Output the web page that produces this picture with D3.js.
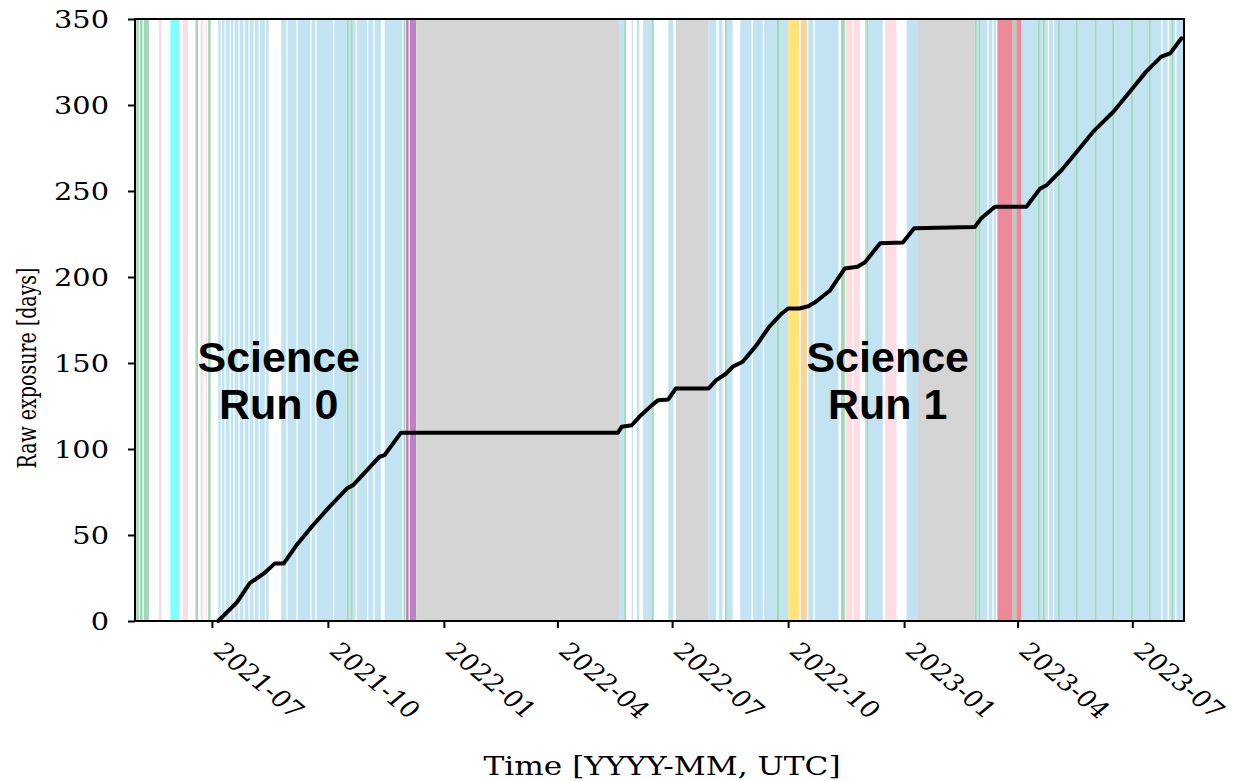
<!DOCTYPE html>
<html>
<head>
<meta charset="utf-8">
<script src="https://cdn.jsdelivr.net/npm/d3@7"></script>
<style>
  body { margin: 0; background: #fff; }
  svg { display: block; }
</style>
</head>
<body>
<svg id="chart" width="1240" height="781"></svg>
<script>
// ---- data -------------------------------------------------------------
const xTickLabels = ["2021-07", "2021-10", "2022-01", "2022-04", "2022-07",
                     "2022-10", "2023-01", "2023-04", "2023-07"];
const yTickValues = [0, 50, 100, 150, 200, 250, 300, 350];

// Detector operating periods, [start, end)
const science = [
  ["2021-07-06","2021-07-08"],["2021-07-09","2021-07-11"],["2021-07-12","2021-07-15"],
  ["2021-07-16","2021-07-18"],["2021-07-19","2021-07-22"],["2021-07-23","2021-07-26"],
  ["2021-07-27","2021-07-30"],["2021-07-31","2021-08-03"],["2021-08-04","2021-08-07"],
  ["2021-08-08","2021-08-12"],["2021-08-13","2021-08-15"],["2021-08-25","2021-08-29"],
  ["2021-08-30","2021-09-06"],["2021-09-07","2021-09-17"],["2021-09-18","2021-09-21"],
  ["2021-09-22","2021-10-05"],["2021-10-06","2021-10-16"],["2021-10-17","2021-10-19"],
  ["2021-10-20","2021-10-23"],["2021-10-24","2021-11-01"],["2021-11-02","2021-11-06"],
  ["2021-11-07","2021-11-12"],["2021-11-15","2021-11-29"],
  ["2022-05-20","2022-05-24"],["2022-05-30","2022-05-31"],["2022-06-03","2022-06-05"],
  ["2022-06-08","2022-06-15"],["2022-06-28","2022-07-02"],["2022-07-30","2022-08-05"],
  ["2022-08-07","2022-08-10"],["2022-08-13","2022-08-18"],["2022-08-24","2022-09-02"],
  ["2022-09-03","2022-09-11"],["2022-09-12","2022-09-22"],["2022-09-24","2022-10-01"],
  ["2022-10-17","2022-10-21"],["2022-10-22","2022-11-10"],["2022-12-01","2022-12-02"],
  ["2022-12-03","2022-12-15"],["2023-01-03","2023-01-12"],["2023-02-27","2023-03-01"],
  ["2023-03-02","2023-03-08"],["2023-03-09","2023-03-12"],["2023-03-13","2023-03-15"],
  ["2023-04-04","2023-04-17"],["2023-04-18","2023-04-21"],["2023-04-22","2023-04-25"],
  ["2023-04-26","2023-04-29"],["2023-04-30","2023-05-03"],["2023-05-04","2023-05-17"],
  ["2023-05-18","2023-06-01"],["2023-06-02","2023-06-15"],["2023-06-16","2023-06-30"],
  ["2023-07-01","2023-07-14"],["2023-07-15","2023-07-24"],["2023-07-25","2023-07-29"],
  ["2023-07-30","2023-08-01"],["2023-08-02","2023-08-04"],["2023-08-05","2023-08-11"]
];
const calibration = [
  ["2021-05-02","2021-05-04"],["2021-05-05","2021-05-07"],["2021-05-08","2021-05-12"],
  ["2021-06-18","2021-06-20"],["2021-06-28","2021-06-30"],["2021-10-16","2021-10-17"],
  ["2021-10-19","2021-10-20"],["2021-11-30","2021-12-01"],["2022-05-24","2022-05-25"],
  ["2022-06-15","2022-06-16"],["2022-08-12","2022-08-13"],["2022-09-22","2022-09-24"],
  ["2022-11-12","2022-11-15"],["2022-12-02","2022-12-03"],["2023-02-26","2023-02-27"],
  ["2023-03-01","2023-03-02"],["2023-03-28","2023-03-31"],["2023-04-17","2023-04-18"],
  ["2023-04-21","2023-04-22"],["2023-05-03","2023-05-04"],["2023-05-17","2023-05-18"],
  ["2023-06-01","2023-06-02"],["2023-06-15","2023-06-16"],["2023-06-30","2023-07-01"],
  ["2023-07-14","2023-07-15"],["2023-08-01","2023-08-02"]
];
const pinkPeriods = [
  ["2021-05-20","2021-05-22"],["2021-06-08","2021-06-12"],["2021-06-22","2021-06-24"],
  ["2021-06-26","2021-06-27"],["2022-11-16","2022-11-21"],["2022-11-22","2022-11-27"],
  ["2022-12-17","2022-12-26"]
];
const cyanPeriods = [["2021-05-29","2021-06-05"]];
const purplePeriods = [["2021-12-02","2021-12-04"],["2021-12-05","2021-12-10"]];
const downtime = [["2021-12-10","2022-05-20"],["2022-07-04","2022-07-30"],["2023-01-12","2023-02-26"]];
const yellowPeriods = [["2022-10-01","2022-10-10"]];
const orangePeriods = [["2022-10-11","2022-10-16"]];
const redPeriods = [["2023-03-16","2023-03-28"],["2023-03-31","2023-04-04"]];

// Accumulated raw exposure
const exposureDates = [
  "2021-07-06","2021-07-21","2021-07-31","2021-08-11","2021-08-20","2021-08-27",
  "2021-09-06","2021-09-19","2021-10-03","2021-10-16","2021-10-21","2021-11-02",
  "2021-11-11","2021-11-15","2021-11-28","2022-05-19","2022-05-22","2022-05-30",
  "2022-06-05","2022-06-15","2022-06-20","2022-06-28","2022-07-04","2022-07-30",
  "2022-08-05","2022-08-13","2022-08-18","2022-08-26","2022-09-06","2022-09-16",
  "2022-09-26","2022-10-01","2022-10-10","2022-10-17","2022-10-23","2022-11-03",
  "2022-11-15","2022-11-25","2022-12-01","2022-12-13","2022-12-31","2023-01-09",
  "2023-02-26","2023-03-03","2023-03-14","2023-04-08","2023-04-19","2023-04-24",
  "2023-05-06","2023-05-18","2023-05-31","2023-06-16","2023-06-29","2023-07-12",
  "2023-07-24","2023-07-31","2023-08-09"
];
const exposureDays = [
  0, 11, 22, 27.5, 33.5, 33.5,
  44, 55.5, 67, 77, 79, 88.5,
  95.5, 96.5, 109.5, 109.5, 112.9, 113.8,
  118.7, 125.5, 128.4, 128.8, 135.2, 135.2,
  140, 143.9, 147.8, 150.7, 160.4, 171,
  178.8, 181.7, 181.7, 183, 185.6, 192,
  205, 206, 208.6, 219.6, 220, 228.4,
  229, 234, 240.8, 240.8, 251.5, 253.4,
  262.2, 272.8, 284.5, 296.1, 307.7, 319.4,
  328.1, 330, 338.8
];

const runLabels = [
  { lines: ["Science", "Run 0"], date: "2021-08-23" },
  { lines: ["Science", "Run 1"], date: "2022-12-19" }
];

// ---- layout ------------------------------------------------------------
const plot = { left: 135, right: 1184, top: 19, bottom: 621 };
const SX = 1.2;            // horizontal text stretch
const parseDay = d3.utcParse("%Y-%m-%d");
const parseMonth = d3.utcParse("%Y-%m");

const x = d3.scaleUtc()
  .domain([parseDay("2021-05-01"), parseDay("2023-08-11")])
  .range([plot.left, plot.right]);
const y = d3.scaleLinear()
  .domain([0, 350])
  .range([plot.bottom, plot.top]);

const svg = d3.select("#chart");

// ---- background periods ---------------------------------------------------
const periodLayers = [
  { data: science,       color: "#c2e4f2", minW: 0.8 },
  { data: calibration,   color: "#9fd9b6", minW: 1.8 },
  { data: pinkPeriods,   color: "#fddde4", minW: 0.8 },
  { data: cyanPeriods,   color: "#80ffff", minW: 0.8 },
  { data: purplePeriods, color: "#c07fc2", minW: 0.8 },
  { data: downtime,      color: "#d5d5d5", minW: 0.8 },
  { data: yellowPeriods, color: "#fde47c", minW: 0.8 },
  { data: orangePeriods, color: "#f7d49c", minW: 0.8 },
  { data: redPeriods,    color: "#ec8a9c", minW: 0.8 }
];

const bg = svg.append("g").attr("class", "periods");
periodLayers.forEach(layer => {
  bg.append("g").selectAll("rect")
    .data(layer.data)
    .join("rect")
    .attr("x", d => x(parseDay(d[0])))
    .attr("width", d => Math.max(layer.minW, x(parseDay(d[1])) - x(parseDay(d[0]))))
    .attr("y", plot.top)
    .attr("height", plot.bottom - plot.top)
    .attr("fill", layer.color);
});

// ---- exposure line ---------------------------------------------------------
const exposure = exposureDates.map((d, i) => ({ date: parseDay(d), value: exposureDays[i] }));
svg.append("path")
  .datum(exposure)
  .attr("fill", "none")
  .attr("stroke", "#000")
  .attr("stroke-width", 4)
  .attr("stroke-linejoin", "round")
  .attr("stroke-linecap", "round")
  .attr("d", d3.line().x(d => x(d.date)).y(d => y(d.value)));

// ---- run labels -------------------------------------------------------------
runLabels.forEach(r => {
  const t = svg.append("text")
    .attr("transform", `translate(${x(parseDay(r.date))},372)`)
    .attr("text-anchor", "middle")
    .attr("font-family", "Liberation Sans, Arial, sans-serif")
    .attr("font-weight", "bold")
    .attr("font-size", 43)
    .attr("fill", "#000");
  r.lines.forEach((line, i) => {
    t.append("tspan").attr("x", 0).attr("dy", i === 0 ? 0 : 47).text(line);
  });
});

// ---- axes -----------------------------------------------------------------
const serif = "DejaVu Serif, serif";

const xAxis = svg.append("g")
  .attr("transform", `translate(0,${plot.bottom})`)
  .call(d3.axisBottom(x)
    .tickValues(xTickLabels.map(parseMonth))
    .tickSize(7)
    .tickFormat(""));
xAxis.select(".domain").remove();
xAxis.selectAll(".tick line").attr("stroke", "#000").attr("stroke-width", 2);
xAxis.selectAll(".tick").append("text")
  .attr("transform", `translate(14,19) scale(${SX},1) rotate(45)`)
  .attr("text-anchor", "start")
  .attr("dominant-baseline", "hanging")
  .attr("font-family", serif)
  .attr("font-size", 23)
  .attr("fill", "#000")
  .text((d, i) => xTickLabels[i]);

const yAxis = svg.append("g")
  .attr("transform", `translate(${plot.left},0)`)
  .call(d3.axisLeft(y).tickValues(yTickValues).tickSize(7).tickFormat(""));
yAxis.select(".domain").remove();
yAxis.selectAll(".tick line").attr("stroke", "#000").attr("stroke-width", 2);
yAxis.selectAll(".tick").append("text")
  .attr("transform", `translate(-26,0) scale(${SX},1)`)
  .attr("text-anchor", "end")
  .attr("dominant-baseline", "central")
  .attr("font-family", serif)
  .attr("font-size", 24)
  .attr("fill", "#000")
  .text(d => d);

// frame
svg.append("rect")
  .attr("x", plot.left).attr("y", plot.top)
  .attr("width", plot.right - plot.left).attr("height", plot.bottom - plot.top)
  .attr("fill", "none").attr("stroke", "#000").attr("stroke-width", 2);

// axis titles
svg.append("text")
  .attr("transform", `translate(662,775) scale(${SX},1)`)
  .attr("text-anchor", "middle")
  .attr("font-family", serif)
  .attr("font-size", 26)
  .attr("fill", "#000")
  .text("Time [YYYY-MM, UTC]");

svg.append("text")
  .attr("transform", `translate(36,368) scale(1.4,1) rotate(-90)`)
  .attr("text-anchor", "middle")
  .attr("font-family", serif)
  .attr("font-size", 19)
  .attr("fill", "#000")
  .text("Raw exposure [days]");
</script>
</body>
</html>
